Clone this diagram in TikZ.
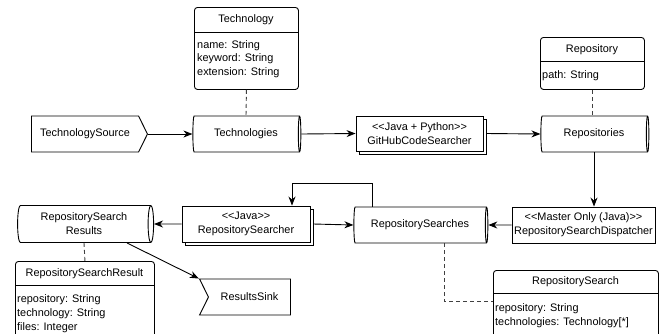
\documentclass[tikz,border=0pt]{standalone}
\usepackage{fontspec}
\newfontfamily\diafont{Liberation Sans}
\usetikzlibrary{shapes.geometric,shapes.symbols,arrows.meta,shadows,calc}
\begin{document}
\begin{tikzpicture}[x=1pt,y=-1pt,
  every node/.style={font=\diafont\fontsize{10.9}{14}\selectfont, inner sep=0pt},
  line/.style={draw=black, line width=0.9pt},
  arr/.style={line, -{Stealth[length=9pt,width=7pt]}},
  dashline/.style={draw=black!75, line width=0.9pt, dash pattern=on 4pt off 3pt},
  store/.style={cylinder, draw, fill=white, line width=0.9pt, aspect=0.25, align=center},
  proc/.style={rectangle, draw, fill=white, line width=0.9pt, align=center},
  multi/.style={proc, copy shadow={shadow xshift=3pt, shadow yshift=-3pt, draw, fill=white, line width=0.9pt}},
  classbox/.style={rectangle, draw, fill=white, line width=0.9pt, rounded corners=3pt, anchor=north west},
  attr/.style={anchor=base west},
  sig/.style={signal, draw, fill=white, line width=0.9pt, signal pointer angle=127}
]
\useasboundingbox (0,0) rectangle (660,333);

% class boxes
\node[classbox, minimum width=104, minimum height=82] (techcls) at (194,7) {};
\draw[line] (194,32) -- (298,32);
\node (techclsT) at (246,20) {Technology};
\node[attr] (techA1) at (197,48) {name: String};
\node[attr] (techA2) at (197,61.5) {keyword: String};
\node[attr] (techA3) at (197,75) {extension: String};

\node[classbox, minimum width=104, minimum height=52] (repocls) at (540,37) {};
\draw[line] (540,61) -- (644,61);
\node (repoclsT) at (592,50) {Repository};
\node[attr] (repoA1) at (542,78) {path: String};

\node[classbox, minimum width=165, minimum height=75] (rscls) at (493,270) {};
\draw[line] (493,293) -- (658,293);
\node (rsclsT) at (575.5,282) {RepositorySearch};
\node[attr] (rsA1) at (495,311) {repository: String};
\node[attr] (rsA2) at (495,325) {technologies: Technology[*]};

\node[classbox, minimum width=139, minimum height=80] (rsrcls) at (15,261) {};
\draw[line] (15,285) -- (154,285);
\node (rsrclsT) at (84.5,273.5) {RepositorySearchResult};
\node[attr] (rsrA1) at (17,302) {repository: String};
\node[attr] (rsrA2) at (17,316) {technology: String};
\node[attr] (rsrA3) at (17,330) {files: Integer};

% stores
\node[store, minimum height=108, minimum width=36] (techs) at (246,134) {Technologies};
\node[store, minimum height=108, minimum width=36] (repos) at (594,134) {Repositories};
\node[store, minimum height=134, minimum width=36] (rs) at (420,225) {RepositorySearches};
\node[store, minimum height=136, minimum width=37] (results) at (84,224) {RepositorySearch\\Results};

% processes
\node[sig, signal to=east, signal from=nowhere, minimum width=116, minimum height=36] (src) at (85,134) {TechnologySource};
\node[multi, minimum width=127, minimum height=35] (gh) at (419.5,133.5) {<<Java + Python>>\\GitHubCodeSearcher};
\node[multi, minimum width=128, minimum height=36] (searcher) at (246,224) {<<Java>>\\RepositorySearcher};
\node[proc, minimum width=143, minimum height=36] (disp) at (583.5,225) {<<Master Only (Java)>>\\RepositorySearchDispatcher};
\node[sig, signal to=nowhere, signal from=west, minimum width=91, minimum height=36] (sink) at (249.5,297) {ResultsSink};

% connectors
\draw[arr] (src.east) -- (techs.west);
\draw[arr] (techs.east) -- (gh.west);
\draw[arr] ([xshift=3pt]gh.east) -- (repos.west);
\draw[arr] (repos.south) -- (repos.south |- disp.north);
\draw[arr] (disp.west) -- (rs.east);
\draw[arr] ([xshift=3pt]searcher.east) -- (rs.west);
\draw[arr] ([xshift=-48pt]rs.north) -- ++(0,-23) -| ([xshift=46pt]searcher.north);
\draw[arr] (searcher.west) -- (results.east);
\draw[arr] ([xshift=43pt]results.south) -- (sink.north west);

\draw[dashline] (techcls.south) -- (techs.north);
\draw[dashline] (repocls.south) -- (repocls.south |- repos.north);
\draw[dashline] (results.south) -- (rsrcls.north);
\draw[dashline] ([xshift=24pt]rs.south) |- ([yshift=6.5pt]rscls.west);
\end{tikzpicture}
\end{document}
